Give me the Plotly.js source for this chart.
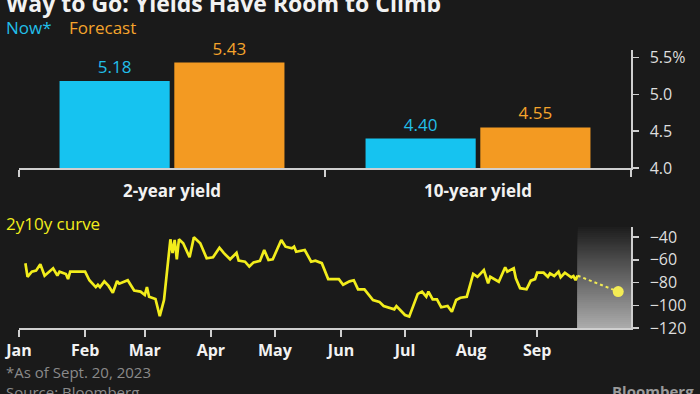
<!DOCTYPE html>
<html>
<head>
<meta charset="utf-8">
<script src="https://cdn.plot.ly/plotly-3.0.1.min.js"></script>
<style>
html,body{margin:0;padding:0;background:#1a1a1a;overflow:hidden;}
#chart{width:700px;height:394px;}
</style>
</head>
<body>
<div id="chart"></div>
<script>
// ---- data ----
const categories = ['2-year yield', '10-year yield'];
const nowYields = [5.18, 4.40];
const forecastYields = [5.43, 4.55];
const barTickVals = [4.0, 4.5, 5.0, 5.5];
const barTickText = ['4.0', '4.5', '5.0', '5.5%'];

const curveDates = [
 '2023-01-04','2023-01-05','2023-01-07','2023-01-09','2023-01-11','2023-01-13','2023-01-17','2023-01-19','2023-01-20','2023-01-23',
 '2023-01-24','2023-01-25','2023-01-27','2023-02-01','2023-02-03','2023-02-06','2023-02-07','2023-02-08','2023-02-10','2023-02-12',
 '2023-02-14','2023-02-16','2023-02-17','2023-02-21','2023-02-24','2023-02-27','2023-03-01','2023-03-02','2023-03-03','2023-03-06',
 '2023-03-08','2023-03-10','2023-03-13','2023-03-14','2023-03-15','2023-03-16','2023-03-17','2023-03-19','2023-03-22','2023-03-24',
 '2023-03-27','2023-03-30','2023-04-02','2023-04-05','2023-04-07','2023-04-10','2023-04-13','2023-04-14','2023-04-17','2023-04-19',
 '2023-04-21','2023-04-24','2023-04-26','2023-04-28','2023-04-30','2023-05-04','2023-05-06','2023-05-09','2023-05-10','2023-05-11',
 '2023-05-15','2023-05-18','2023-05-20','2023-05-23','2023-05-26','2023-05-31','2023-06-02','2023-06-05','2023-06-07','2023-06-09',
 '2023-06-12','2023-06-16','2023-06-19','2023-06-21','2023-06-26','2023-06-27','2023-07-01','2023-07-03','2023-07-07','2023-07-09',
 '2023-07-11','2023-07-12','2023-07-14','2023-07-16','2023-07-18','2023-07-21','2023-07-23','2023-07-25','2023-07-27','2023-07-30',
 '2023-08-02','2023-08-04','2023-08-07','2023-08-09','2023-08-10','2023-08-14','2023-08-17','2023-08-18','2023-08-21','2023-08-22',
 '2023-08-24','2023-08-27','2023-08-29','2023-08-31','2023-09-01','2023-09-04','2023-09-06','2023-09-07','2023-09-09','2023-09-11',
 '2023-09-12','2023-09-14','2023-09-17','2023-09-18','2023-09-19','2023-09-20'
];
const curveValues = [
 -63,-75,-70.5,-69.6,-64,-74,-67.5,-74,-70.5,-72.5,
 -77,-70.5,-70.5,-70.5,-78,-84,-82,-84,-79,-83,
 -89,-78.7,-81,-78,-87,-88,-91,-84,-92.5,-94.5,
 -109.5,-95.4,-42,-54,-42.6,-59.6,-42,-45.5,-57.8,-40.3,
 -45.5,-58.7,-57.8,-49.4,-54,-59.6,-54,-60.8,-61.7,-66,
 -62.3,-61,-51.4,-60.2,-59.6,-42.6,-48.5,-50,-48.5,-53,
 -51.4,-61.7,-60.8,-63,-77,-77,-82,-79,-78,-86,
 -86,-95.4,-97,-100.7,-103.6,-100.7,-108.6,-110,-90,-88,
 -92.5,-88,-94.8,-94.8,-101.8,-100.7,-105.7,-95.4,-93.4,-92.5,
 -72.5,-75,-69,-80.7,-75,-79.3,-66.6,-70.5,-67.5,-76.3,
 -85,-86,-78.4,-77,-71.4,-71.4,-75,-72,-74.3,-70.5,
 -75.4,-71.4,-75.4,-74.3,-78,-74
];
const forecastDate = '2023-10-09';
const forecastSpread = Math.round((forecastYields[1] - forecastYields[0]) * 100); // -88 bp
const curveRange = ['2023-01-01', '2023-10-15'];
const monthTicks = ['2023-01-01','2023-02-01','2023-03-01','2023-04-01','2023-05-01','2023-06-01','2023-07-01','2023-08-01','2023-09-01'];
const monthLabels = ['Jan','Feb','Mar','Apr','May','Jun','Jul','Aug','Sep'];
const curveTicks = [-40, -60, -80, -100, -120];

// ---- styles ----
const BG = '#1a1a1a';
const CYAN = '#16c3f0', CYAN_TXT = '#22bfe9';
const ORANGE = '#f39a22', ORANGE_TXT = '#f5a42c';
const YELLOW = '#f2ed1c';
const AXIS = '#cfcfcf';
const FONT = "'Open Sans', Roboto, sans-serif";

const W = 700, H = 394;
const px = v => v / W;
const py = v => 1 - v / H;
const xDom = [px(19), px(631)];
const barDom = [py(168), py(50)];
const curveDom = [py(328), py(227)];
const curveYRange = [-120, -31.2];

const traces = [
  {type:'bar', x:categories, y:nowYields, xaxis:'x', yaxis:'y', name:'Now*',
   marker:{color:CYAN}, text:nowYields.map(v=>v.toFixed(2)), textposition:'outside',
   textfont:{color:CYAN_TXT, size:17, family:FONT}, cliponaxis:false, hoverinfo:'skip'},
  {type:'bar', x:categories, y:forecastYields, xaxis:'x', yaxis:'y', name:'Forecast',
   marker:{color:ORANGE}, text:forecastYields.map(v=>v.toFixed(2)), textposition:'outside',
   textfont:{color:ORANGE_TXT, size:17, family:FONT}, cliponaxis:false, hoverinfo:'skip'},
  {type:'scatter', mode:'lines', x:curveDates, y:curveValues, xaxis:'x2', yaxis:'y2',
   line:{color:YELLOW, width:2.7}, hoverinfo:'skip'},
  {type:'scatter', mode:'lines', x:[curveDates[curveDates.length-1], forecastDate],
   y:[curveValues[curveValues.length-1], forecastSpread], xaxis:'x2', yaxis:'y2',
   line:{color:'#f0ea55', width:2, dash:'dot'}, hoverinfo:'skip'},
  {type:'scatter', mode:'markers', x:[forecastDate], y:[forecastSpread], xaxis:'x2', yaxis:'y2',
   marker:{color:'#f3ec55', size:11}, hoverinfo:'skip', cliponaxis:false}
];

// gradient shade for the forecast zone (overlapping bands, no seams)
const shapes = [];
const N = 50;
const shadeTop = curveDom[1], shadeBot = curveDom[0];
function mix(a, b, t){ return Math.round(a + (b - a) * t); }
for (let i = 0; i < N; i++) {
  const t = i / (N - 1); // 0 top -> 1 bottom
  const c = mix(0x1e, 0xaa, t);
  shapes.push({type:'rect', xref:'x2', yref:'paper', layer:'below', line:{width:0},
    x0:curveDates[curveDates.length-1], x1:curveRange[1],
    y0: shadeBot, y1: shadeTop - (shadeTop - shadeBot) * i / N,
    fillcolor:`rgb(${c},${c},${c})`});
}

const ann = (text, x, y, opts={}) => Object.assign({
  text, x, y, xref:'paper', yref:'paper', xanchor:'left', yanchor:'middle',
  showarrow:false, font:{family:FONT, size:17, color:'#ffffff'}
}, opts);

const layout = {
  width:W, height:H, margin:{l:0, r:0, t:0, b:0},
  paper_bgcolor:BG, plot_bgcolor:BG, showlegend:false,
  barmode:'group', bargap:0.25, bargroupgap:0.04,
  font:{family:FONT, color:'#ffffff'},
  xaxis:{domain:xDom, anchor:'y', type:'category', showline:true, linecolor:AXIS, linewidth:1.5,
    ticks:'outside', tickson:'boundaries', ticklen:7, tickcolor:AXIS, tickwidth:1.5, ticklabelstandoff:7,
    tickfont:{family:FONT, size:17, color:'#f2f2f2', weight:700}, showgrid:false, zeroline:false, fixedrange:true},
  yaxis:{domain:barDom, anchor:'x', side:'right', range:[4.0, 5.6], tickvals:barTickVals, ticktext:barTickText,
    showline:true, linecolor:AXIS, linewidth:1.5, ticks:'outside', ticklen:6, tickcolor:AXIS, tickwidth:1.5,
    ticklabelstandoff:8, tickfont:{family:FONT, size:16, color:'#dedede'}, showgrid:false, zeroline:false, fixedrange:true},
  xaxis2:{domain:xDom, anchor:'y2', type:'date', range:curveRange, tickvals:monthTicks, ticktext:monthLabels,
    showline:true, linecolor:AXIS, linewidth:1.5, ticks:'outside', ticklen:7, tickcolor:AXIS, tickwidth:1.5,
    tickfont:{family:FONT, size:16, color:'#f2f2f2', weight:700}, showgrid:false, zeroline:false, fixedrange:true},
  yaxis2:{domain:curveDom, anchor:'x2', side:'right', range:curveYRange, tickvals:curveTicks,
    showline:true, linecolor:AXIS, linewidth:1.5, ticks:'outside', ticklen:6, tickcolor:AXIS, tickwidth:1.5,
    ticklabelstandoff:8, tickfont:{family:FONT, size:16, color:'#dedede'}, showgrid:false, zeroline:false, fixedrange:true},
  shapes,
  annotations:[
    ann('Way to Go: Yields Have Room to Climb', px(4), py(3), {font:{family:FONT, size:23, color:'#f2f2f2', weight:700}}),
    ann('Now*', px(4), py(28), {font:{family:FONT, size:17, color:CYAN_TXT}}),
    ann('Forecast', px(67), py(28), {font:{family:FONT, size:17, color:ORANGE_TXT}}),
    ann('2y10y curve', px(4), py(223), {font:{family:FONT, size:17, color:YELLOW}}),
    ann('*As of Sept. 20, 2023', px(4), py(372), {font:{family:FONT, size:15, color:'#8a8a8a'}}),
    ann('Source: Bloomberg', px(4), py(392), {font:{family:FONT, size:15, color:'#8a8a8a'}}),
    ann('Bloomberg', px(696), py(391), {xanchor:'right', font:{family:FONT, size:15, color:'#9a9a9a', weight:700}})
  ]
};

Plotly.newPlot('chart', traces, layout, {staticPlot:true, displayModeBar:false});
</script>
</body>
</html>
